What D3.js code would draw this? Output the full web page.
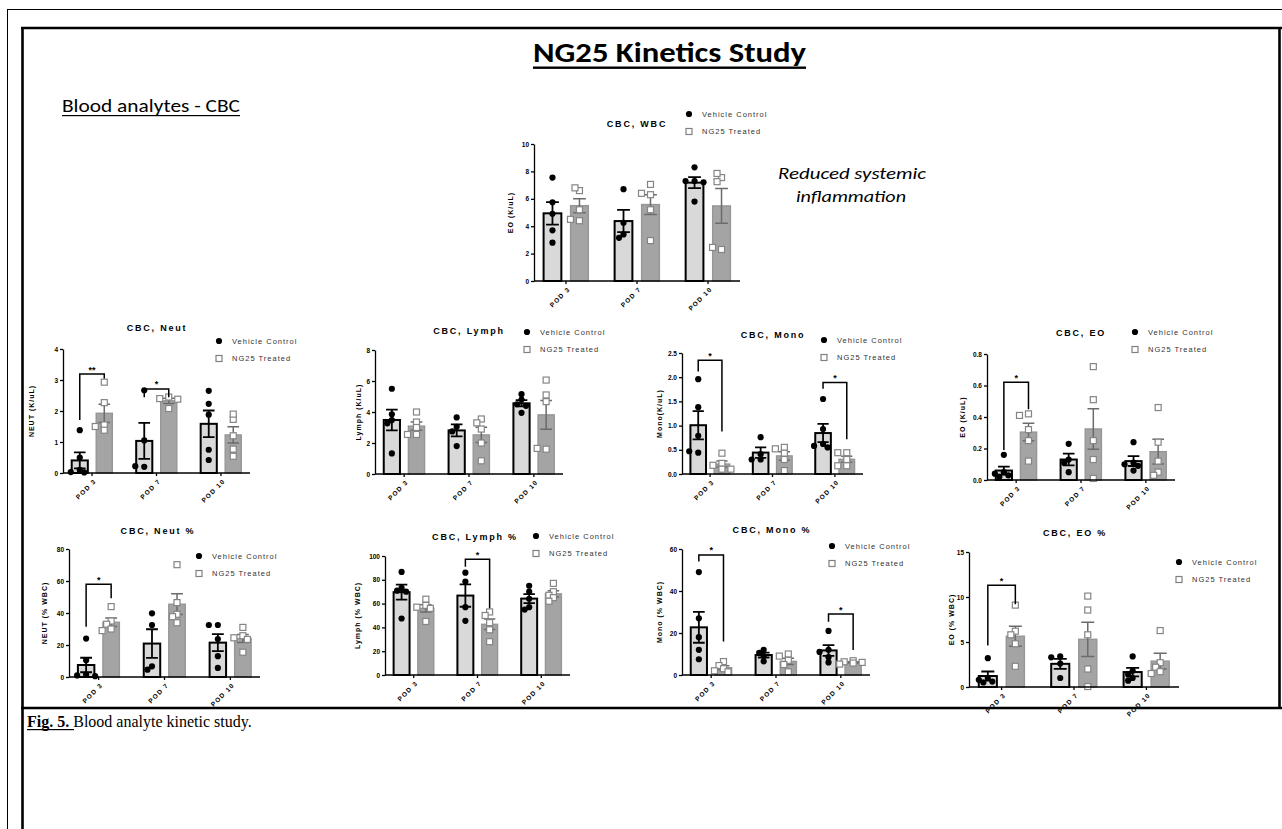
<!DOCTYPE html>
<html>
<head>
<meta charset="utf-8">
<script src="https://cdn.jsdelivr.net/npm/d3@7"></script>
<style>
  body { margin: 0; background: #fff; }
  svg text { font-family: "Liberation Sans", Arial, sans-serif; }
</style>
</head>
<body>
<svg id="fig" width="1282" height="829"></svg>
<script>
// ---- data ----
const pods = ["POD 3", "POD 7", "POD 10"];
const groups = ["Vehicle Control", "NG25 Treated"];

const wbcCtrl = [[7.55, 5.75, 4.9, 3.7, 2.8], [6.7, 4.25, 3.4, 3.15], [8.3, 7.3, 7.3, 7.2, 5.8]];
const wbcTrt = [[6.6, 6.8, 5.2, 4.4, 4.5], [7.05, 6.3, 6.4, 5.2, 2.95], [7.55, 7.25, 7.85, 2.3, 2.45]];

const neutCtrl = [[1.38, 0.5, 0.1, 0.03, 0.02], [2.67, 1.05, 0.2, 0.22], [2.65, 2.23, 1.88, 0.75, 0.42]];
const neutTrt = [[2.93, 2.27, 1.55, 1.38, 1.5], [2.45, 2.4, 2.38, 2.08], [1.73, 1.9, 1.2, 0.77, 0.54]];
const neutSig = [{ pod: 0, label: "**", top: 3.19, left: 1.71, right: 3.05 }, { pod: 1, label: "*", top: 2.71, left: 2.44, right: 2.44 }];

const lymphCtrl = [[5.5, 3.85, 3.48, 3.27, 1.33], [3.65, 3.05, 2.75, 1.8], [5.15, 4.8, 4.5, 4.4, 3.95]];
const lymphTrt = [[4.0, 3.35, 3.0, 2.55, 2.55], [3.55, 3.3, 2.9, 2.0, 0.85], [6.06, 5.1, 4.67, 1.6, 1.65]];

const monoCtrl = [[1.96, 1.38, 0.79, 0.44, 0.47], [0.76, 0.41, 0.3, 0.3], [1.55, 0.93, 0.62, 0.58, 0.55]];
const monoTrt = [[0.43, 0.22, 0.18, 0.1, 0.1], [0.55, 0.52, 0.43, 0.3, 0.07], [0.44, 0.44, 0.3, 0.17, 0.17]];
const monoSig = [{ pod: 0, label: "*", top: 2.35, left: 2.12, right: 0.88 }, { pod: 2, label: "*", top: 1.89, left: 1.76, right: 0.72 }];

const eoCtrl = [[0.16, 0.05, 0.04, 0.03, 0.02], [0.23, 0.13, 0.11, 0.05], [0.24, 0.11, 0.1, 0.09, 0.06]];
const eoTrt = [[0.42, 0.41, 0.32, 0.25, 0.12], [0.72, 0.51, 0.25, 0.13, 0.01], [0.46, 0.24, 0.12, 0.05, 0.03]];
const eoSig = [{ pod: 0, label: "*", top: 0.62, left: 0.19, right: 0.45 }];

const neutPctCtrl = [[24, 10.5, 1.5, 1.0, 0.5], [39.8, 32.5, 6.7, 4.6], [32.5, 32.5, 23.7, 13, 5.7]];
const neutPctTrt = [[44, 35, 33, 30, 29], [70.2, 46.5, 39.2, 37.7, 33.9], [31, 25.8, 24.5, 23.5, 15.5]];
const neutPctSig = [{ pod: 0, label: "*", top: 58, left: 31.4, right: 49.2 }];

const lymphPctCtrl = [[86.6, 73.2, 70.9, 70, 47.5], [86, 78.5, 57, 45.5], [75, 70, 64, 57, 55]];
const lymphPctTrt = [[63.7, 58.5, 57, 56, 45], [53, 50, 44, 38, 28], [77, 70, 67, 65, 62]];
const lymphPctSig = [{ pod: 1, label: "*", top: 97.2, left: 91, right: 56 }];

const monoPctCtrl = [[49, 27, 18, 12, 7.5], [12, 10.5, 9, 6.5], [21, 12, 11, 8.5, 6]];
const monoPctTrt = [[6.4, 4.5, 3, 2, 1.5], [10, 9, 7, 5, 1.5], [6.8, 6.3, 6.0, 5.7, 5.2]];
const monoPctSig = [{ pod: 0, label: "*", top: 57.2, left: 54, right: 15.9 }, { pod: 2, label: "*", top: 29, left: 25.4, right: 11.9 }];

const eoPctCtrl = [[3.2, 1.0, 0.8, 0.6, 0.5], [3.4, 3.3, 2.6, 1.0], [3.4, 1.8, 1.4, 1.0, 0.7]];
const eoPctTrt = [[9.1, 6.2, 5.8, 4.8, 2.3], [10.1, 8.55, 5.8, 2.0, 0.05], [6.27, 2.7, 2.2, 1.7, 1.5]];
const eoPctSig = [{ pod: 0, label: "*", top: 11.3, left: 4.6, right: 9.2 }];

// ---- panel layout ----
const panels = [
    { title: "CBC, WBC", ylab: "EO (K/uL)", ctrl: wbcCtrl, trt: wbcTrt, sig: [], yMax: 10, yStep: 2, fmt: "d",
      x0: 534, x1: 740, yTop: 144, yBot: 281, tx: 637, ty: 127, lx: 689, ly: 114, ylx: 511 },
    { title: "CBC, Neut", ylab: "NEUT (K/uL)", ctrl: neutCtrl, trt: neutTrt, sig: neutSig, yMax: 4, yStep: 1, fmt: "d",
      x0: 63, x1: 250, yTop: 349, yBot: 473, tx: 157, ty: 331, lx: 219, ly: 341, ylx: 32 },
    { title: "CBC, Lymph", ylab: "Lymph (K/uL)", ctrl: lymphCtrl, trt: lymphTrt, sig: [], yMax: 8, yStep: 2, fmt: "d",
      x0: 375, x1: 563, yTop: 350, yBot: 474, tx: 469, ty: 334, lx: 527, ly: 332, ylx: 359 },
    { title: "CBC, Mono", ylab: "Mono(K/uL)", ctrl: monoCtrl, trt: monoTrt, sig: monoSig, yMax: 2.5, yStep: 0.5, fmt: ".1f",
      x0: 682, x1: 863, yTop: 353, yBot: 474, tx: 773, ty: 338, lx: 824, ly: 340, ylx: 660 },
    { title: "CBC, EO", ylab: "EO (K/uL)", ctrl: eoCtrl, trt: eoTrt, sig: eoSig, yMax: 0.8, yStep: 0.2, fmt: ".1f",
      x0: 987, x1: 1175, yTop: 354, yBot: 480, tx: 1081, ty: 336, lx: 1135, ly: 332, ylx: 963 },
    { title: "CBC, Neut %", ylab: "NEUT (% WBC)", ctrl: neutPctCtrl, trt: neutPctTrt, sig: neutPctSig, yMax: 80, yStep: 20, fmt: "d",
      x0: 69, x1: 260, yTop: 549, yBot: 677, tx: 158, ty: 534, lx: 199, ly: 556, ylx: 45 },
    { title: "CBC, Lymph %", ylab: "Lymph (% WBC)", ctrl: lymphPctCtrl, trt: lymphPctTrt, sig: lymphPctSig, yMax: 100, yStep: 20, fmt: "d",
      x0: 385, x1: 570, yTop: 556, yBot: 675, tx: 475, ty: 540, lx: 536, ly: 536, ylx: 358 },
    { title: "CBC, Mono %", ylab: "Mono (% WBC)", ctrl: monoPctCtrl, trt: monoPctTrt, sig: monoPctSig, yMax: 60, yStep: 20, fmt: "d",
      x0: 682, x1: 870, yTop: 549, yBot: 675, tx: 772, ty: 533, lx: 832, ly: 546, ylx: 660 },
    { title: "CBC, EO %", ylab: "EO (% WBC)", ctrl: eoPctCtrl, trt: eoPctTrt, sig: eoPctSig, yMax: 15, yStep: 5, fmt: "d",
      x0: 969, x1: 1179, yTop: 552, yBot: 687, tx: 1075, ty: 536, lx: 1179, ly: 562, ylx: 952 }
];

const svg = d3.select("#fig");

// ---- page frame and headings ----
svg.append("line").attr("x1", 7).attr("x2", 1282).attr("y1", 9.5).attr("y2", 9.5).attr("stroke", "#000").attr("stroke-width", 1);
svg.append("line").attr("x1", 7.5).attr("x2", 7.5).attr("y1", 9).attr("y2", 829).attr("stroke", "#000").attr("stroke-width", 1);
const thick = [[21, 28, 1282, 28], [22.5, 27, 22.5, 829], [1279.5, 27, 1279.5, 709], [21, 708, 1282, 708]];
thick.forEach(l => svg.append("line").attr("x1", l[0]).attr("y1", l[1]).attr("x2", l[2]).attr("y2", l[3])
    .attr("stroke", "#000").attr("stroke-width", 2.6));

svg.append("text").attr("x", 533).attr("y", 62).attr("textLength", 273).attr("lengthAdjust", "spacingAndGlyphs")
    .style("font-family", "Carlito, 'Open Sans', sans-serif").style("font-weight", "bold").style("font-size", "29px")
    .text("NG25 Kinetics Study");
svg.append("rect").attr("x", 533).attr("y", 66.5).attr("width", 273).attr("height", 2.4).attr("fill", "#000");

svg.append("text").attr("x", 62).attr("y", 112).attr("textLength", 178).attr("lengthAdjust", "spacingAndGlyphs")
    .style("font-family", "Carlito, 'Open Sans', sans-serif").style("font-size", "18px")
    .text("Blood analytes - CBC");
svg.append("rect").attr("x", 62).attr("y", 115).attr("width", 178).attr("height", 1.2).attr("fill", "#000");

const note = svg.append("text").attr("text-anchor", "middle")
    .style("font-family", "Carlito, 'Open Sans', sans-serif").style("font-style", "italic").style("font-size", "17px");
note.append("tspan").attr("x", 852).attr("y", 179).attr("textLength", 148).attr("lengthAdjust", "spacingAndGlyphs").text("Reduced systemic");
note.append("tspan").attr("x", 851).attr("y", 202).attr("textLength", 110).attr("lengthAdjust", "spacingAndGlyphs").text("inflammation");

const cap = svg.append("text").attr("x", 27).attr("y", 727)
    .style("font-family", "'Liberation Serif', 'Times New Roman', serif").style("font-size", "16px");
cap.append("tspan").style("font-weight", "bold").text("Fig. 5.");
cap.append("tspan").text(" Blood analyte kinetic study.");
svg.append("rect").attr("x", 27).attr("y", 729).attr("width", 47).attr("height", 1.2).attr("fill", "#000");

// ---- one Prism-style panel ----
function drawPanel(p) {
    const g = svg.append("g");
    const y = d3.scaleLinear().domain([0, p.yMax]).range([p.yBot, p.yTop]);
    const x = d3.scalePoint().domain(pods).range([p.x0, p.x1]).padding(0.45);
    const step = x.step();
    const off = step * 0.19, bw = step * 0.25;
    const cxOf = (s, i) => x(pods[i]) + (s === 0 ? -off : off);

    // title
    g.append("text").attr("x", p.tx).attr("y", p.ty).attr("text-anchor", "middle")
        .style("font-size", "9px").style("font-weight", "bold").style("letter-spacing", "1.8px")
        .text(p.title);

    // legend
    g.append("circle").attr("cx", p.lx).attr("cy", p.ly).attr("r", 3.1).attr("fill", "#000");
    g.append("rect").attr("x", p.lx - 3).attr("y", p.ly + 14.5).attr("width", 6).attr("height", 6)
        .attr("fill", "#fff").attr("stroke", "#808080").attr("stroke-width", 1.2);
    groups.forEach((name, k) => {
        g.append("text").attr("x", p.lx + 13).attr("y", p.ly + 2.7 + k * 17.5)
            .style("font-size", "7.5px").style("letter-spacing", "1px").attr("fill", "#333")
            .text(name);
    });

    // bars, error bars, points
    [p.ctrl, p.trt].forEach((series, s) => {
        series.forEach((pts, i) => {
            const m = d3.mean(pts);
            const se = d3.deviation(pts) / Math.sqrt(pts.length);
            const cx = cxOf(s, i);
            g.append("rect").attr("x", cx - bw / 2).attr("y", y(m)).attr("width", bw).attr("height", p.yBot - y(m))
                .attr("fill", s === 0 ? "#d9d9d9" : "#a4a4a4")
                .attr("stroke", s === 0 ? "#000" : "#969696")
                .attr("stroke-width", s === 0 ? 2 : 1.4);
            const ec = s === 0 ? "#000" : "#6b6b6b", ew = s === 0 ? 1.8 : 1.5, cw = bw * 0.36;
            g.append("path")
                .attr("d", `M${cx},${y(m - se)}V${y(m + se)}M${cx - cw},${y(m + se)}H${cx + cw}M${cx - cw},${y(m - se)}H${cx + cw}`)
                .attr("fill", "none").attr("stroke", ec).attr("stroke-width", ew);

            // simple scatter so markers don't sit fully on top of each other
            const placed = [];
            pts.forEach(v => {
                const py = y(v);
                let px = cx;
                for (const k of [0, -1, 1, -2, 2, -3, 3]) {
                    const tx = cx + k * 4.5;
                    if (placed.every(q => Math.hypot(q[0] - tx, q[1] - py) >= 5)) { px = tx; break; }
                }
                placed.push([px, py]);
                if (s === 0) {
                    g.append("circle").attr("cx", px).attr("cy", py).attr("r", 3.1).attr("fill", "#000");
                } else {
                    g.append("rect").attr("x", px - 3).attr("y", py - 3).attr("width", 6).attr("height", 6)
                        .attr("fill", "#fff").attr("stroke", "#858585").attr("stroke-width", 1.2);
                }
            });
        });
    });

    // y axis
    const yAxis = d3.axisLeft(y).tickValues(d3.range(0, p.yMax + p.yStep / 2, p.yStep))
        .tickFormat(d3.format(p.fmt)).tickSize(3).tickSizeOuter(0);
    const ya = g.append("g").attr("transform", `translate(${p.x0},0)`).call(yAxis);
    ya.select(".domain").attr("stroke-width", 1.3);
    ya.selectAll(".tick line").attr("stroke-width", 1.3);
    ya.selectAll(".tick text").attr("x", -5).attr("fill", "#000").style("font-size", "6.5px").style("font-weight", "bold")
        .style("font-family", "'Liberation Sans', Arial, sans-serif");

    g.append("text").attr("transform", `translate(${p.ylx},${(p.yTop + p.yBot) / 2}) rotate(-90)`)
        .attr("text-anchor", "middle").attr("dy", "0.35em")
        .style("font-size", "7px").style("font-weight", "bold").style("letter-spacing", "1px")
        .text(p.ylab);

    // x axis
    g.append("line").attr("x1", p.x0).attr("x2", p.x1).attr("y1", p.yBot).attr("y2", p.yBot)
        .attr("stroke", "#000").attr("stroke-width", 1.3);
    pods.forEach(d => {
        g.append("line").attr("x1", x(d)).attr("x2", x(d)).attr("y1", p.yBot).attr("y2", p.yBot + 3)
            .attr("stroke", "#000").attr("stroke-width", 1.3);
        g.append("text").attr("transform", `translate(${x(d) + 3},${p.yBot + 7}) rotate(-45)`)
            .attr("text-anchor", "end").attr("dy", "0.35em")
            .style("font-size", "6.5px").style("font-weight", "bold").style("letter-spacing", "1.2px")
            .text(d);
    });

    // significance brackets
    p.sig.forEach(b => {
        const xl = cxOf(0, b.pod), xr = cxOf(1, b.pod);
        g.append("path").attr("d", `M${xl},${y(b.left)}V${y(b.top)}H${xr}V${y(b.right)}`)
            .attr("fill", "none").attr("stroke", "#000").attr("stroke-width", 1.5);
        g.append("text").attr("x", (xl + xr) / 2).attr("y", y(b.top) - 1.5).attr("text-anchor", "middle")
            .style("font-size", "9px").style("font-weight", "bold").text(b.label);
    });
}

panels.forEach(drawPanel);
</script>
</body>
</html>
